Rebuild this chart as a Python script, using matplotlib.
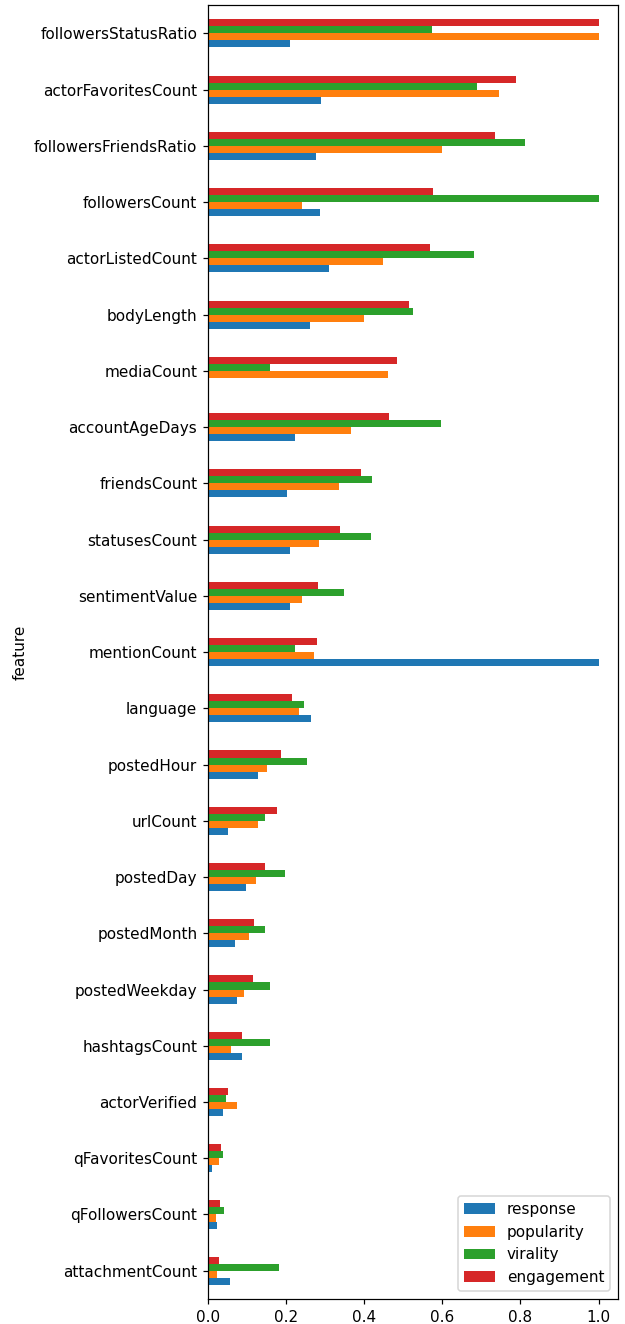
import matplotlib
matplotlib.use("Agg")
import matplotlib.pyplot as plt
import pandas as pd

# listed top-to-bottom as shown in the chart
features = ["followersStatusRatio", "actorFavoritesCount", "followersFriendsRatio",
            "followersCount", "actorListedCount", "bodyLength", "mediaCount",
            "accountAgeDays", "friendsCount", "statusesCount", "sentimentValue",
            "mentionCount", "language", "postedHour", "urlCount", "postedDay",
            "postedMonth", "postedWeekday", "hashtagsCount", "actorVerified",
            "qFavoritesCount", "qFollowersCount", "attachmentCount"]
response = [0.209, 0.289, 0.276, 0.286, 0.309, 0.260, 0.003, 0.224, 0.201, 0.211,
            0.211, 1.0, 0.263, 0.127, 0.050, 0.098, 0.068, 0.075, 0.086, 0.039,
            0.011, 0.024, 0.057]
popularity = [1.0, 0.746, 0.599, 0.240, 0.448, 0.399, 0.461, 0.366, 0.335, 0.283,
              0.240, 0.271, 0.232, 0.152, 0.129, 0.122, 0.104, 0.093, 0.060, 0.075,
              0.029, 0.021, 0.024]
virality = [0.574, 0.689, 0.8125, 1.0, 0.682, 0.525, 0.160, 0.597, 0.420, 0.417,
            0.348, 0.222, 0.247, 0.253, 0.145, 0.196, 0.145, 0.158, 0.160, 0.047,
            0.039, 0.042, 0.183]
engagement = [1.0, 0.789, 0.735, 0.576, 0.568, 0.515, 0.484, 0.463, 0.391, 0.337,
              0.281, 0.278, 0.214, 0.186, 0.176, 0.145, 0.119, 0.116, 0.086, 0.052,
              0.034, 0.032, 0.029]

df = pd.DataFrame({"response": response, "popularity": popularity,
                   "virality": virality, "engagement": engagement},
                  index=pd.Index(features, name="feature"))
df = df.iloc[::-1]

DPI = 110
fig = plt.figure(figsize=(625 / DPI, 1324 / DPI), dpi=DPI)
ax = fig.add_axes([0.3328, 0.019, 0.989 - 0.3328, 0.996 - 0.019])
df.plot.barh(ax=ax)
ax.legend(loc="lower right")
fig.savefig("out.png", dpi=DPI)
